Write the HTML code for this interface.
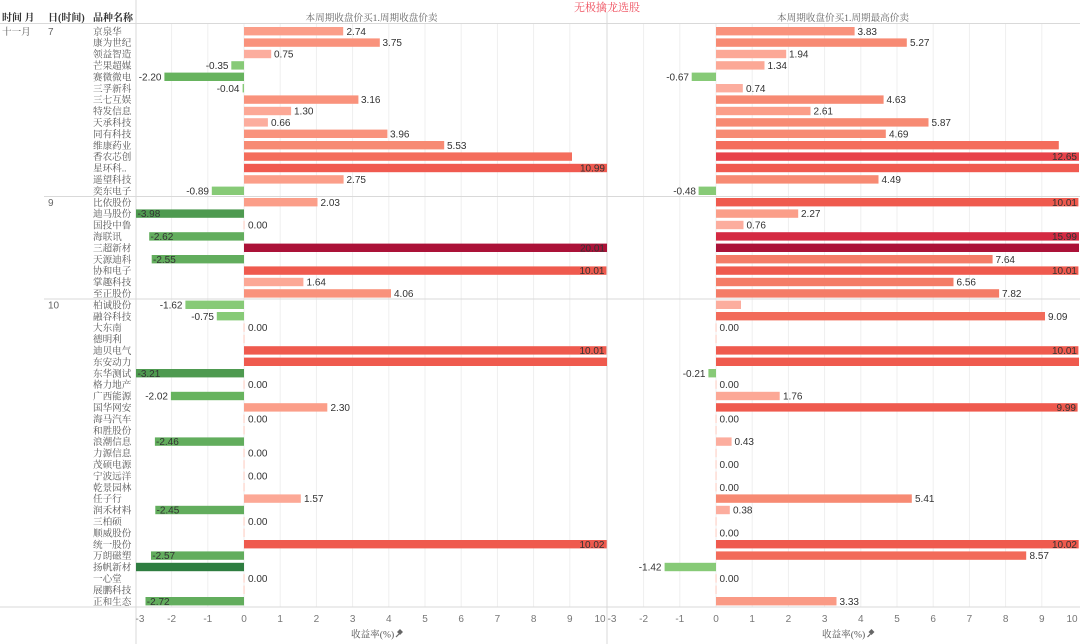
<!DOCTYPE html>
<html><head><meta charset="utf-8"><style>
html,body{margin:0;padding:0;background:#fff;}
svg{display:block;}
.n{font-family:"Liberation Serif","Noto Serif CJK SC",serif;font-size:9.6px;fill:#555;}
.h{font-family:"Liberation Serif","Noto Serif CJK SC",serif;font-size:10px;fill:#333;font-weight:bold;}
.st{font-family:"Liberation Serif","Noto Serif CJK SC",serif;font-size:9.6px;fill:#666;}
.v{font-family:"Liberation Sans",sans-serif;font-size:10px;fill:#333;}
.e{text-anchor:end;}
.t{font-family:"Liberation Sans",sans-serif;font-size:10px;fill:#777;text-anchor:middle;}
.g{font-family:"Liberation Sans",sans-serif;font-size:10px;fill:#666;}
</style></head><body>
<svg width="1080" height="644" viewBox="0 0 1080 644" xmlns="http://www.w3.org/2000/svg">
<rect width="1080" height="644" fill="#fff"/>
<!-- gridlines -->
<g stroke="#efefef" stroke-width="1">
<line x1="171.6" y1="24" x2="171.6" y2="607"/><line x1="207.8" y1="24" x2="207.8" y2="607"/><line x1="244" y1="24" x2="244" y2="607"/><line x1="280.2" y1="24" x2="280.2" y2="607"/><line x1="316.4" y1="24" x2="316.4" y2="607"/><line x1="352.6" y1="24" x2="352.6" y2="607"/><line x1="388.8" y1="24" x2="388.8" y2="607"/><line x1="425" y1="24" x2="425" y2="607"/><line x1="461.2" y1="24" x2="461.2" y2="607"/><line x1="497.4" y1="24" x2="497.4" y2="607"/><line x1="533.6" y1="24" x2="533.6" y2="607"/><line x1="569.8" y1="24" x2="569.8" y2="607"/>
<line x1="643.6" y1="24" x2="643.6" y2="607"/><line x1="679.8" y1="24" x2="679.8" y2="607"/><line x1="716" y1="24" x2="716" y2="607"/><line x1="752.2" y1="24" x2="752.2" y2="607"/><line x1="788.4" y1="24" x2="788.4" y2="607"/><line x1="824.6" y1="24" x2="824.6" y2="607"/><line x1="860.8" y1="24" x2="860.8" y2="607"/><line x1="897" y1="24" x2="897" y2="607"/><line x1="933.2" y1="24" x2="933.2" y2="607"/><line x1="969.4" y1="24" x2="969.4" y2="607"/><line x1="1005.6" y1="24" x2="1005.6" y2="607"/><line x1="1041.8" y1="24" x2="1041.8" y2="607"/>
</g>
<!-- structure lines -->
<g stroke="#d9d9d9" stroke-width="1">
<line x1="0" y1="23.5" x2="1080" y2="23.5"/>
<line x1="44" y1="196.5" x2="1080" y2="196.5"/>
<line x1="44" y1="299" x2="1080" y2="299"/>
<line x1="0" y1="607" x2="1080" y2="607"/>
<line x1="136" y1="0" x2="136" y2="644"/>
<line x1="607" y1="12" x2="607" y2="644"/>
</g>
<!-- title/header -->
<text x="607" y="11" text-anchor="middle" style="font-family:'Liberation Serif','Noto Serif CJK SC',serif;font-size:11px;fill:#ef4f5e;">无极擒龙选股</text>
<text class="h" x="2" y="21">时间 月</text>
<text class="h" x="48" y="21">日(时间)</text>
<text class="h" x="93" y="21">品种名称</text>
<text class="st" x="371.5" y="21" text-anchor="middle">本周期收盘价买1.周期收盘价卖</text>
<text class="st" x="843" y="21" text-anchor="middle">本周期收盘价买1.周期最高价卖</text>
<text class="n" x="2" y="34.8">十一月</text>
<text class="g" x="48" y="34.8">7</text>
<text class="g" x="48" y="205.8">9</text>
<text class="g" x="48" y="308.4">10</text>
<!-- names -->
<g class="n">
<text x="93" y="34.8">京泉华</text><text x="93" y="46.2">康为世纪</text><text x="93" y="57.6">领益智造</text><text x="93" y="69.0">芒果超媒</text><text x="93" y="80.4">赛微微电</text><text x="93" y="91.8">三孚新科</text><text x="93" y="103.2">三七互娱</text><text x="93" y="114.6">特发信息</text><text x="93" y="126.0">天承科技</text><text x="93" y="137.4">同有科技</text><text x="93" y="148.8">维康药业</text><text x="93" y="160.2">香农芯创</text><text x="93" y="171.6">星环科..</text><text x="93" y="183.0">遥望科技</text><text x="93" y="194.4">奕东电子</text>
<text x="93" y="205.8">比依股份</text><text x="93" y="217.2">迪马股份</text><text x="93" y="228.6">国投中鲁</text><text x="93" y="240.0">海联讯</text><text x="93" y="251.4">三超新材</text><text x="93" y="262.8">天源迪科</text><text x="93" y="274.2">协和电子</text><text x="93" y="285.6">掌趣科技</text><text x="93" y="297.0">至正股份</text>
<text x="93" y="308.4">柏诚股份</text><text x="93" y="319.8">融谷科技</text><text x="93" y="331.2">大东南</text><text x="93" y="342.6">德明利</text><text x="93" y="354.0">迪贝电气</text><text x="93" y="365.4">东安动力</text><text x="93" y="376.8">东华测试</text><text x="93" y="388.2">格力地产</text><text x="93" y="399.6">广西能源</text><text x="93" y="411.0">国华网安</text><text x="93" y="422.4">海马汽车</text><text x="93" y="433.8">和胜股份</text><text x="93" y="445.2">浪潮信息</text><text x="93" y="456.6">力源信息</text><text x="93" y="468.0">茂硕电源</text><text x="93" y="479.4">宁波远洋</text><text x="93" y="490.8">乾景园林</text><text x="93" y="502.2">任子行</text><text x="93" y="513.6">润禾材料</text><text x="93" y="525.0">三柏硕</text><text x="93" y="536.4">顺威股份</text><text x="93" y="547.8">统一股份</text><text x="93" y="559.2">万朗磁塑</text><text x="93" y="570.6">扬帆新材</text><text x="93" y="582.0">一心堂</text><text x="93" y="593.4">展鹏科技</text><text x="93" y="604.8">正和生态</text>
</g>
<!-- left bars -->
<g>
<rect x="244" y="27.0" width="99.2" height="8.4" fill="#fb9e89"/>
<rect x="244" y="38.4" width="135.8" height="8.4" fill="#f9927c"/>
<rect x="244" y="49.8" width="27.2" height="8.4" fill="#fcad9e"/>
<rect x="231.3" y="61.2" width="12.7" height="8.4" fill="#87ca77"/>
<rect x="164.4" y="72.6" width="79.6" height="8.4" fill="#67b35e"/>
<rect x="242.6" y="84.0" width="1.4" height="8.4" fill="#87ca77"/>
<rect x="244" y="95.4" width="114.4" height="8.4" fill="#f9927c"/>
<rect x="244" y="106.8" width="47.1" height="8.4" fill="#fca896"/>
<rect x="244" y="118.2" width="23.9" height="8.4" fill="#fcad9e"/>
<rect x="244" y="129.6" width="143.4" height="8.4" fill="#f9927c"/>
<rect x="244" y="141.0" width="200.2" height="8.4" fill="#f78a73"/>
<rect x="244" y="152.4" width="328" height="8.4" fill="#f46d5c"/>
<rect x="244" y="163.8" width="363" height="8.4" fill="#f05a50"/>
<rect x="244" y="175.2" width="99.6" height="8.4" fill="#fb9e89"/>
<rect x="211.8" y="186.6" width="32.2" height="8.4" fill="#87ca77"/>
<rect x="244" y="198.0" width="73.5" height="8.4" fill="#fb9e89"/>
<rect x="136" y="209.4" width="108" height="8.4" fill="#4e9a50"/>
<rect x="243.4" y="220.8" width="1.3" height="8.4" fill="#fdd5cc"/>
<rect x="149.2" y="232.2" width="94.8" height="8.4" fill="#62ad5d"/>
<rect x="244" y="243.6" width="363" height="8.4" fill="#ab1238"/>
<rect x="151.7" y="255.0" width="92.3" height="8.4" fill="#62ad5d"/>
<rect x="244" y="266.4" width="362.4" height="8.4" fill="#ef5a4e"/>
<rect x="244" y="277.8" width="59.4" height="8.4" fill="#fca896"/>
<rect x="244" y="289.2" width="147" height="8.4" fill="#f9927c"/>
<rect x="185.4" y="300.6" width="58.6" height="8.4" fill="#87ca77"/>
<rect x="216.8" y="312.0" width="27.2" height="8.4" fill="#87ca77"/>
<rect x="243.4" y="323.4" width="1.3" height="8.4" fill="#fdd5cc"/>
<rect x="243.4" y="334.8" width="1.3" height="8.4" fill="#fdd5cc"/>
<rect x="244" y="346.2" width="362.4" height="8.4" fill="#ef5a4e"/>
<rect x="244" y="357.6" width="363" height="8.4" fill="#ef5a4e"/>
<rect x="136" y="369.0" width="108" height="8.4" fill="#4e9a50"/>
<rect x="243.4" y="380.4" width="1.3" height="8.4" fill="#fdd5cc"/>
<rect x="170.9" y="391.8" width="73.1" height="8.4" fill="#67b35e"/>
<rect x="244" y="403.2" width="83.3" height="8.4" fill="#fb9e89"/>
<rect x="243.4" y="414.6" width="1.3" height="8.4" fill="#fdd5cc"/>
<rect x="243.4" y="426.0" width="1.3" height="8.4" fill="#fdd5cc"/>
<rect x="154.9" y="437.4" width="89.1" height="8.4" fill="#62ad5d"/>
<rect x="243.4" y="448.8" width="1.3" height="8.4" fill="#fdd5cc"/>
<rect x="243.4" y="460.2" width="1.3" height="8.4" fill="#fdd5cc"/>
<rect x="243.4" y="471.6" width="1.3" height="8.4" fill="#fdd5cc"/>
<rect x="243.4" y="483.0" width="1.3" height="8.4" fill="#fdd5cc"/>
<rect x="244" y="494.4" width="56.8" height="8.4" fill="#fca896"/>
<rect x="155.3" y="505.8" width="88.7" height="8.4" fill="#62ad5d"/>
<rect x="243.4" y="517.2" width="1.3" height="8.4" fill="#fdd5cc"/>
<rect x="243.4" y="528.6" width="1.3" height="8.4" fill="#fdd5cc"/>
<rect x="244" y="540.0" width="362.7" height="8.4" fill="#ef5a4e"/>
<rect x="151" y="551.4" width="93" height="8.4" fill="#62ad5d"/>
<rect x="136" y="562.8" width="108" height="8.4" fill="#2e7d40"/>
<rect x="243.4" y="574.2" width="1.3" height="8.4" fill="#fdd5cc"/>
<rect x="243.4" y="585.6" width="1.3" height="8.4" fill="#fdd5cc"/>
<rect x="145.5" y="597.0" width="98.5" height="8.4" fill="#62ad5d"/>
</g>
<!-- left labels -->
<g class="v">
<text x="346.5" y="34.8">2.74</text>
<text x="382.5" y="46.2">3.75</text>
<text x="274" y="57.6">0.75</text>
<text class="v e" x="228.5" y="69.0">-0.35</text>
<text class="v e" x="161.5" y="80.4">-2.20</text>
<text class="v e" x="239.5" y="91.8">-0.04</text>
<text x="361" y="103.2">3.16</text>
<text x="294" y="114.6">1.30</text>
<text x="271" y="126.0">0.66</text>
<text x="390" y="137.4">3.96</text>
<text x="447" y="148.8">5.53</text>
<text class="v e" x="605" y="171.6">10.99</text>
<text x="346.5" y="183.0">2.75</text>
<text class="v e" x="209" y="194.4">-0.89</text>
<text x="320.5" y="205.8">2.03</text>
<text x="137.5" y="217.2">-3.98</text>
<text x="248" y="228.6">0.00</text>
<text x="150.5" y="240.0">-2.62</text>
<text class="v e" x="605" y="251.4">20.01</text>
<text x="153" y="262.8">-2.55</text>
<text class="v e" x="604.5" y="274.2">10.01</text>
<text x="306.5" y="285.6">1.64</text>
<text x="394" y="297.0">4.06</text>
<text class="v e" x="182.5" y="308.4">-1.62</text>
<text class="v e" x="214" y="319.8">-0.75</text>
<text x="248" y="331.2">0.00</text>
<text class="v e" x="604.5" y="354.0">10.01</text>
<text x="137.5" y="376.8">-3.21</text>
<text x="248" y="388.2">0.00</text>
<text class="v e" x="168" y="399.6">-2.02</text>
<text x="330.5" y="411.0">2.30</text>
<text x="248" y="422.4">0.00</text>
<text x="156" y="445.2">-2.46</text>
<text x="248" y="456.6">0.00</text>
<text x="248" y="479.4">0.00</text>
<text x="304" y="502.2">1.57</text>
<text x="156.5" y="513.6">-2.45</text>
<text x="248" y="525.0">0.00</text>
<text class="v e" x="604.5" y="547.8">10.02</text>
<text x="152.3" y="559.2">-2.57</text>
<text x="248" y="582.0">0.00</text>
<text x="146.8" y="604.8">-2.72</text>
</g>
<!-- right bars -->
<g>
<rect x="716" y="27.0" width="138.6" height="8.4" fill="#f9927c"/>
<rect x="716" y="38.4" width="190.8" height="8.4" fill="#f78a73"/>
<rect x="716" y="49.8" width="70.2" height="8.4" fill="#fca896"/>
<rect x="716" y="61.2" width="48.5" height="8.4" fill="#fca896"/>
<rect x="691.7" y="72.6" width="24.3" height="8.4" fill="#87ca77"/>
<rect x="716" y="84.0" width="26.8" height="8.4" fill="#fcad9e"/>
<rect x="716" y="95.4" width="167.6" height="8.4" fill="#f78a73"/>
<rect x="716" y="106.8" width="94.5" height="8.4" fill="#fb9e89"/>
<rect x="716" y="118.2" width="212.5" height="8.4" fill="#f78a73"/>
<rect x="716" y="129.6" width="169.8" height="8.4" fill="#f78a73"/>
<rect x="716" y="141.0" width="342.8" height="8.4" fill="#f46d5c"/>
<rect x="716" y="152.4" width="363" height="8.4" fill="#e8434a"/>
<rect x="716" y="163.8" width="363" height="8.4" fill="#f05a50"/>
<rect x="716" y="175.2" width="162.5" height="8.4" fill="#f78a73"/>
<rect x="698.6" y="186.6" width="17.4" height="8.4" fill="#87ca77"/>
<rect x="716" y="198.0" width="362.4" height="8.4" fill="#ef5a4e"/>
<rect x="716" y="209.4" width="82.2" height="8.4" fill="#fb9e89"/>
<rect x="716" y="220.8" width="27.5" height="8.4" fill="#fcad9e"/>
<rect x="716" y="232.2" width="363" height="8.4" fill="#d42a42"/>
<rect x="716" y="243.6" width="363" height="8.4" fill="#ab1238"/>
<rect x="716" y="255.0" width="276.6" height="8.4" fill="#f47c67"/>
<rect x="716" y="266.4" width="362.4" height="8.4" fill="#ef5a4e"/>
<rect x="716" y="277.8" width="237.5" height="8.4" fill="#f47c67"/>
<rect x="716" y="289.2" width="283.1" height="8.4" fill="#f47c67"/>
<rect x="716" y="300.6" width="25" height="8.4" fill="#fcad9e"/>
<rect x="716" y="312.0" width="329" height="8.4" fill="#f26b5a"/>
<rect x="715.4" y="323.4" width="1.3" height="8.4" fill="#fdd5cc"/>
<rect x="715.4" y="334.8" width="1.3" height="8.4" fill="#fdd5cc"/>
<rect x="716" y="346.2" width="362.4" height="8.4" fill="#ef5a4e"/>
<rect x="716" y="357.6" width="363" height="8.4" fill="#ef5a4e"/>
<rect x="708.4" y="369.0" width="7.6" height="8.4" fill="#87ca77"/>
<rect x="715.4" y="380.4" width="1.3" height="8.4" fill="#fdd5cc"/>
<rect x="716" y="391.8" width="63.7" height="8.4" fill="#fca896"/>
<rect x="716" y="403.2" width="361.6" height="8.4" fill="#ef5a4e"/>
<rect x="715.4" y="414.6" width="1.3" height="8.4" fill="#fdd5cc"/>
<rect x="715.4" y="426.0" width="1.3" height="8.4" fill="#fdd5cc"/>
<rect x="716" y="437.4" width="15.6" height="8.4" fill="#fcad9e"/>
<rect x="715.4" y="448.8" width="1.3" height="8.4" fill="#fdd5cc"/>
<rect x="715.4" y="460.2" width="1.3" height="8.4" fill="#fdd5cc"/>
<rect x="715.4" y="471.6" width="1.3" height="8.4" fill="#fdd5cc"/>
<rect x="715.4" y="483.0" width="1.3" height="8.4" fill="#fdd5cc"/>
<rect x="716" y="494.4" width="195.8" height="8.4" fill="#f78a73"/>
<rect x="716" y="505.8" width="13.8" height="8.4" fill="#fcad9e"/>
<rect x="715.4" y="517.2" width="1.3" height="8.4" fill="#fdd5cc"/>
<rect x="715.4" y="528.6" width="1.3" height="8.4" fill="#fdd5cc"/>
<rect x="716" y="540.0" width="362.7" height="8.4" fill="#ef5a4e"/>
<rect x="716" y="551.4" width="310.2" height="8.4" fill="#f26b5a"/>
<rect x="664.6" y="562.8" width="51.4" height="8.4" fill="#87ca77"/>
<rect x="715.4" y="574.2" width="1.3" height="8.4" fill="#fdd5cc"/>
<rect x="715.4" y="585.6" width="1.3" height="8.4" fill="#fdd5cc"/>
<rect x="716" y="597.0" width="120.5" height="8.4" fill="#fa9a85"/>
</g>
<!-- right labels -->
<g class="v">
<text x="857.5" y="34.8">3.83</text>
<text x="910" y="46.2">5.27</text>
<text x="789" y="57.6">1.94</text>
<text x="767.5" y="69.0">1.34</text>
<text class="v e" x="689" y="80.4">-0.67</text>
<text x="746" y="91.8">0.74</text>
<text x="886.5" y="103.2">4.63</text>
<text x="813.5" y="114.6">2.61</text>
<text x="931.5" y="126.0">5.87</text>
<text x="889" y="137.4">4.69</text>
<text class="v e" x="1077" y="160.2">12.65</text>
<text x="881.5" y="183.0">4.49</text>
<text class="v e" x="696" y="194.4">-0.48</text>
<text class="v e" x="1077" y="205.8">10.01</text>
<text x="801" y="217.2">2.27</text>
<text x="746.5" y="228.6">0.76</text>
<text class="v e" x="1077" y="240.0">15.99</text>
<text x="995.5" y="262.8">7.64</text>
<text class="v e" x="1077" y="274.2">10.01</text>
<text x="956.5" y="285.6">6.56</text>
<text x="1002" y="297.0">7.82</text>
<text x="1048" y="319.8">9.09</text>
<text x="719.5" y="331.2">0.00</text>
<text class="v e" x="1077" y="354.0">10.01</text>
<text class="v e" x="705.5" y="376.8">-0.21</text>
<text x="719.5" y="388.2">0.00</text>
<text x="783" y="399.6">1.76</text>
<text class="v e" x="1076" y="411.0">9.99</text>
<text x="719.5" y="422.4">0.00</text>
<text x="734.5" y="445.2">0.43</text>
<text x="719.5" y="468.0">0.00</text>
<text x="719.5" y="490.8">0.00</text>
<text x="915" y="502.2">5.41</text>
<text x="733" y="513.6">0.38</text>
<text x="719.5" y="536.4">0.00</text>
<text class="v e" x="1077" y="547.8">10.02</text>
<text x="1029.5" y="559.2">8.57</text>
<text class="v e" x="661.5" y="570.6">-1.42</text>
<text x="719.5" y="582.0">0.00</text>
<text x="839.5" y="604.8">3.33</text>
</g>
<!-- axis ticks -->
<g class="t">
<text x="140" y="621.8">-3</text><text x="171.6" y="621.8">-2</text><text x="207.8" y="621.8">-1</text><text x="244" y="621.8">0</text><text x="280.2" y="621.8">1</text><text x="316.4" y="621.8">2</text><text x="352.6" y="621.8">3</text><text x="388.8" y="621.8">4</text><text x="425" y="621.8">5</text><text x="461.2" y="621.8">6</text><text x="497.4" y="621.8">7</text><text x="533.6" y="621.8">8</text><text x="569.8" y="621.8">9</text><text x="600" y="621.8">10</text>
<text x="612" y="621.8">-3</text><text x="643.6" y="621.8">-2</text><text x="679.8" y="621.8">-1</text><text x="716" y="621.8">0</text><text x="752.2" y="621.8">1</text><text x="788.4" y="621.8">2</text><text x="824.6" y="621.8">3</text><text x="860.8" y="621.8">4</text><text x="897" y="621.8">5</text><text x="933.2" y="621.8">6</text><text x="969.4" y="621.8">7</text><text x="1005.6" y="621.8">8</text><text x="1041.8" y="621.8">9</text><text x="1072" y="621.8">10</text>
</g>
<text class="st" x="351" y="637.5" style="fill:#555">收益率(%)</text>
<text class="st" x="822" y="637.5" style="fill:#555">收益率(%)</text>
<g stroke="#666" stroke-width="1.2" fill="#666">
<line x1="396" y1="637" x2="399" y2="634"/><rect x="398.5" y="630.5" width="3" height="3" transform="rotate(45 400 632)"/>
<line x1="867.5" y1="637" x2="870.5" y2="634"/><rect x="870" y="630.5" width="3" height="3" transform="rotate(45 871.5 632)"/>
</g>
</svg>
</body></html>
